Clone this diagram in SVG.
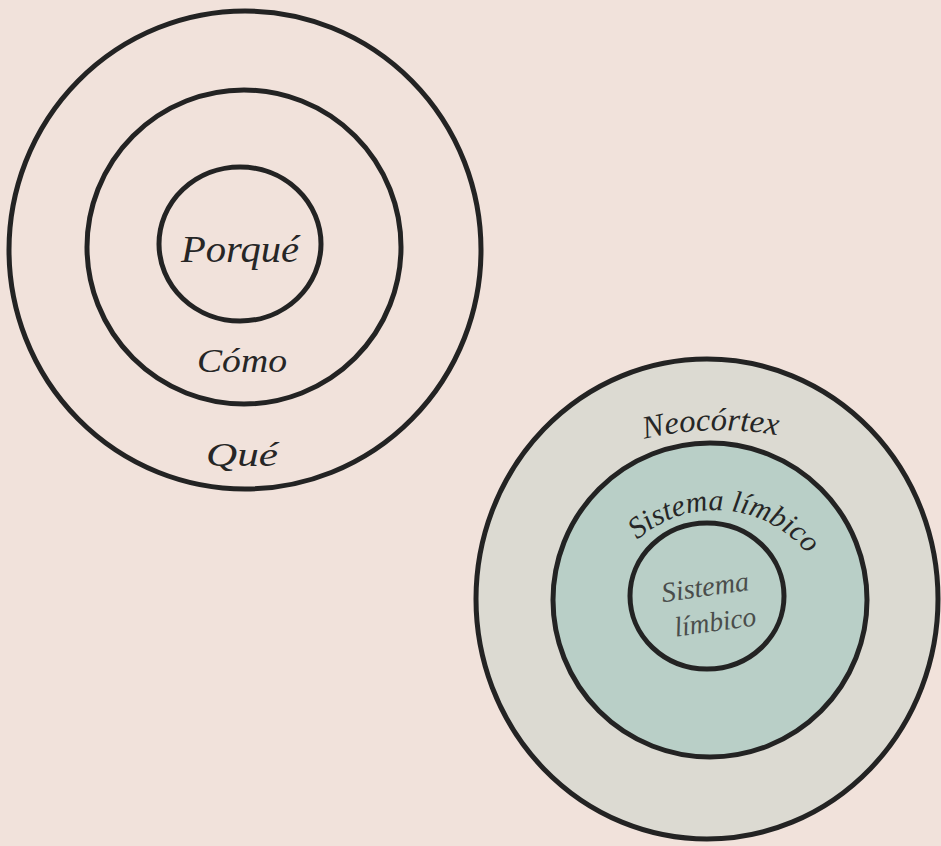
<svg xmlns="http://www.w3.org/2000/svg" width="941" height="846" viewBox="0 0 941 846">
<style>
.ring{fill:none;stroke:#232323;stroke-width:5}
.lbl{font-family:"Liberation Serif","DejaVu Serif",serif;font-style:italic;fill:#262626;text-anchor:middle}
.soft{fill:#4a4d4b}
</style>
<defs>
<path id="arcLimbic" d="M 632 545 A 118 118 0 0 1 812 560"/>
<path id="arcNeo" d="M 640 440 A 330 330 0 0 1 782 436"/>
</defs>
<rect x="0" y="0" width="941" height="846" fill="#f1e2db"/>
<g id="left-outer">
<ellipse class="ring" cx="245" cy="250" rx="236" ry="239"/>
<text class="lbl" x="242" y="466" font-size="34" textLength="72" lengthAdjust="spacingAndGlyphs">Qué</text>
</g>
<g id="left-middle">
<ellipse class="ring" cx="244" cy="247" rx="157" ry="157"/>
<text class="lbl" x="242" y="372" font-size="34" textLength="90" lengthAdjust="spacingAndGlyphs">Cómo</text>
</g>
<g id="left-inner">
<ellipse class="ring" cx="240" cy="244" rx="81" ry="77"/>
<text class="lbl" x="240" y="262" font-size="38" textLength="118" lengthAdjust="spacingAndGlyphs">Porqué</text>
</g>
<g id="right-outer">
<ellipse class="ring" cx="707" cy="599" rx="231" ry="240" fill="#dcdad2" style="fill:#dcdad2"/>
<text class="lbl" font-size="32"><textPath href="#arcNeo" startOffset="50%" textLength="134" lengthAdjust="spacingAndGlyphs">Neocórtex</textPath></text>
</g>
<g id="right-middle">
<ellipse class="ring" cx="710" cy="600" rx="157" ry="157" style="fill:#b9cfc7"/>
<text class="lbl" font-size="30"><textPath href="#arcLimbic" startOffset="50%">Sistema límbico</textPath></text>
</g>
<g id="right-inner">
<ellipse class="ring" cx="707" cy="596" rx="77" ry="73"/>
<g transform="rotate(-8 707 600)">
<text class="lbl soft" x="707" y="596" font-size="28" textLength="88" lengthAdjust="spacingAndGlyphs">Sistema</text>
<text class="lbl soft" x="712" y="632" font-size="28" textLength="82" lengthAdjust="spacingAndGlyphs">límbico</text>
</g>
</g>
<g id="connectors"/>
</svg>
